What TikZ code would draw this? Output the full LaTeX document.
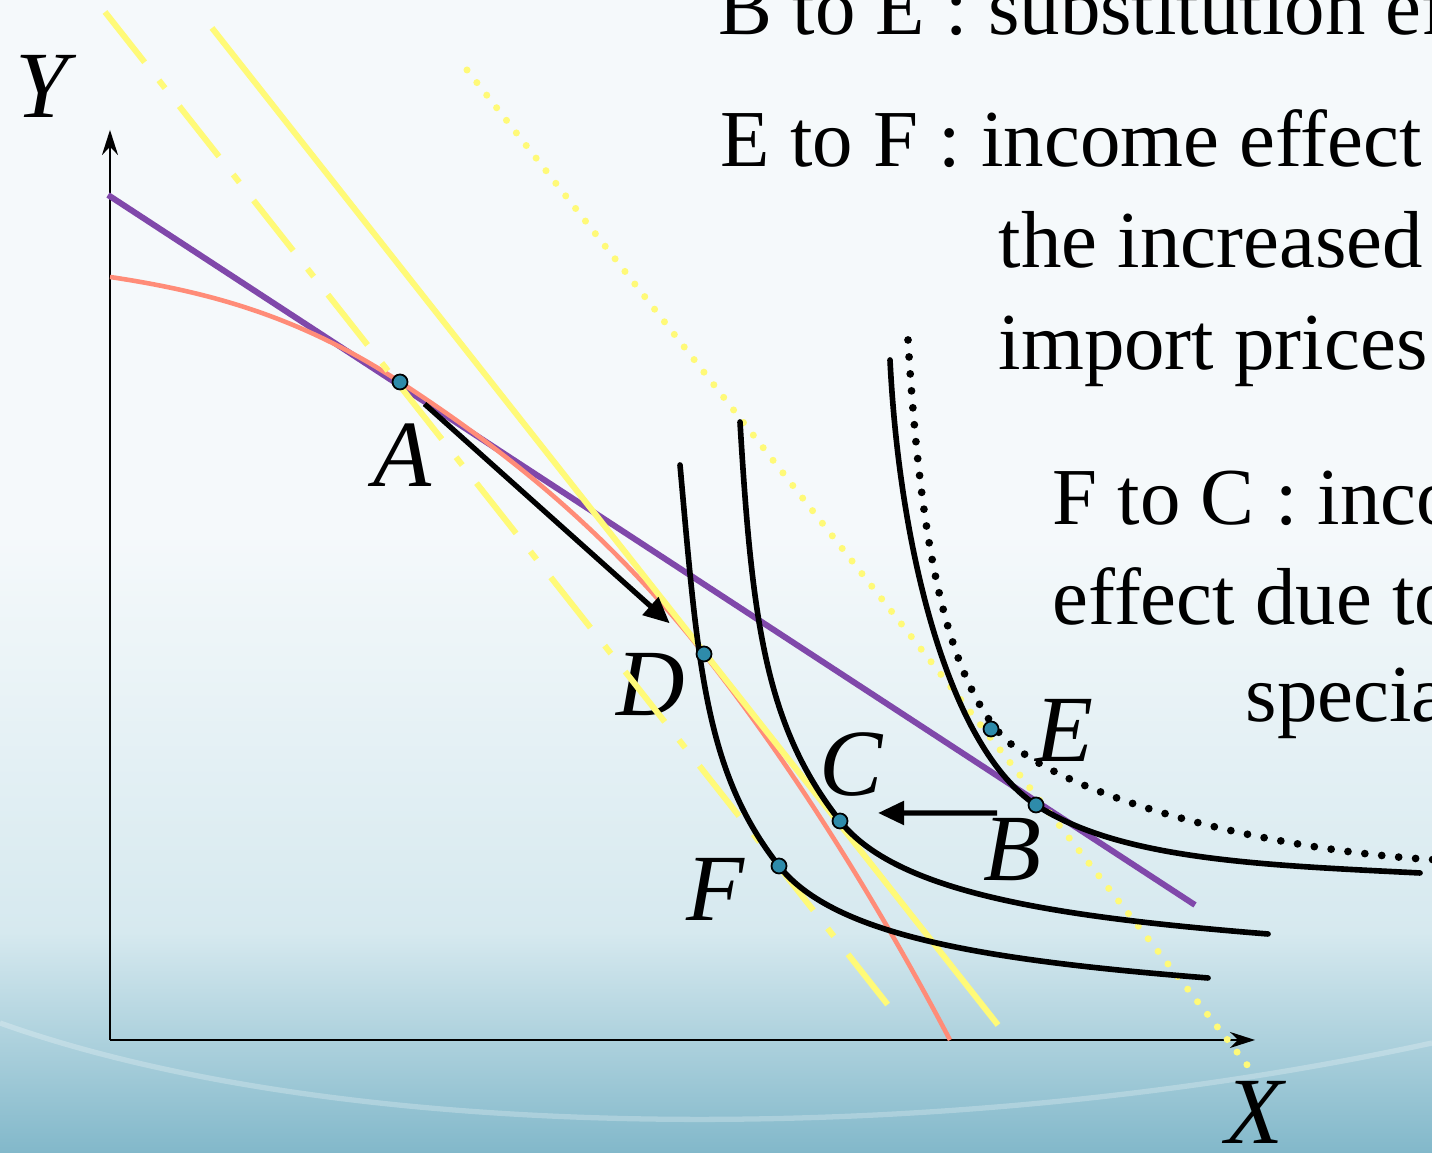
\documentclass[tikz,border=0pt]{standalone}
\usepackage{fontspec}
\setmainfont{Liberation Serif}
\usetikzlibrary{arrows.meta, positioning}
\definecolor{bgtop}{HTML}{F5F9FB}
\definecolor{bgmid}{HTML}{D6E9EF}
\definecolor{bgbot}{HTML}{82B8CA}
\definecolor{totline}{HTML}{8048AA}
\definecolor{ppfline}{HTML}{FF8C78}
\definecolor{budget}{HTML}{FFFA78}
\definecolor{spotfill}{HTML}{2E8BAA}

\begin{document}
\begin{tikzpicture}[>=Stealth]
    \tikzset{spot/.style={circle, draw=black, fill=spotfill, line width=0.5pt, inner sep=0pt, minimum size=0.15cm},
             letter/.style={font=\fontsize{27}{32}\selectfont\itshape, inner sep=0pt},
             txt/.style={font=\fontsize{23}{28}\selectfont, anchor=base west, inner sep=0pt},
             indiff/.style={line width=1.6pt, line cap=round},
             move/.style={line width=1.5pt, -{Triangle[length=0.26cm, width=0.23cm]}},
             axis/.style={line width=0.45pt, -{Stealth[length=0.25cm, width=0.16cm, inset=0.08cm]}}}

    % background
    \useasboundingbox (0,0) rectangle (14.32,11.53);
    \clip (0,0) rectangle (14.32,11.53);
    \fill[bgtop] (0,0) rectangle (14.32,11.53);
    \shade[top color=bgtop, bottom color=bgmid] (0,2.2) rectangle (14.32,6.2);
    \shade[top color=bgmid, bottom color=bgbot] (0,0) rectangle (14.32,2.21);
    \draw[white, opacity=0.25, line width=1.5pt] (0,1.3) .. controls (3.5,0.05) and (9.5,0.05) .. (14.32,1.1);

    % axes
    \coordinate (O) at (1.10,1.13);
    \coordinate (ytip) at (1.10,10.23);
    \coordinate (xtip) at (12.55,1.13);
    \draw[axis] (O) -- (ytip);
    \draw[axis] (O) -- (xtip);
    \node[letter] (ylab) at (0.42,10.67) {Y};
    \node[letter] (xlab) at (12.54,0.41) {X};

    % point labels
    \node[letter] (labA) at (4.02,6.98) {A};
    \node[letter] (labD) at (6.51,4.68) {D};
    \node[letter] (labC) at (8.51,3.88) {C};
    \node[letter] (labE) at (10.64,4.23) {E};
    \node[letter] (labB) at (10.12,3.03) {B};
    \node[letter] (labF) at (7.15,2.64) {F};

    % terms of trade and production frontier
    \draw[totline, line width=1.7pt] (1.08,9.58) -- (11.95,2.48);
    \draw[ppfline, line width=1.3pt] (1.10,8.76) .. controls (2.10,8.61) and (3.00,8.363) .. (4.00,7.71)
        .. controls (5.00,7.057) and (6.04,6.258) .. (7.04,4.99)
        .. controls (7.84,3.976) and (8.70,2.65) .. (9.50,1.13);

    % price lines
    \draw[budget, line width=1.7pt] (2.12,11.25) -- (9.98,1.28);
    \draw[budget, line width=1.7pt, dash pattern=on 0.64cm off 0.23cm on 0.1cm off 0.23cm] (1.05,11.41) -- (8.88,1.48);
    \draw[budget, line width=2pt, line cap=round, dash pattern=on 0pt off 0.16cm] (4.67,10.83) -- (12.55,0.78);

    % indifference curves
    \draw[indiff] (6.80,6.88) .. controls (6.98,4.88) and (7.047,3.812) .. (7.79,2.87)
        .. controls (8.347,2.163) and (9.88,1.926) .. (12.08,1.75);
    \draw[indiff] (7.40,7.31) .. controls (7.52,5.31) and (7.657,4.262) .. (8.40,3.32)
        .. controls (8.957,2.613) and (10.48,2.366) .. (12.68,2.19);
    \draw[indiff] (8.90,7.93) .. controls (9.00,5.93) and (9.523,4.027) .. (10.36,3.48)
        .. controls (11.197,2.933) and (12.60,2.88) .. (14.20,2.80);
    \draw[line width=2.2pt, line cap=round, dash pattern=on 0pt off 0.17cm] (9.08,8.13) .. controls (9.19,6.33) and (9.405,4.948) .. (9.96,4.24)
        .. controls (10.454,3.61) and (12.6,3.02) .. (14.40,2.93);

    % equilibrium points
    \node[spot] (A) at (4.00,7.71) {};
    \node[spot] (D) at (7.04,4.99) {};
    \node[spot] (C) at (8.40,3.32) {};
    \node[spot] (F) at (7.79,2.87) {};
    \node[spot] (B) at (10.36,3.48) {};
    \node[spot] (E) at (9.91,4.24) {};

    % movements
    \draw[move, shorten <=0.33cm, shorten >=0.46cm] (A.center) -- (D.center);
    \draw[move] ([xshift=-0.39cm, yshift=-0.08cm]B.center) -- ([xshift=0.38cm, yshift=0.08cm]C.center);

    % explanations
    \node[txt] (l1) at (7.18,11.18) {B to E : substitution effect};
    \node[txt] (l2) at (7.20,9.86) {E to F : income effect};
    \node[txt] (l3) at (9.98,8.85) {the increased};
    \node[txt] (l4) at (9.98,7.83) {import prices};
    \node[txt] (l5) at (10.52,6.28) {F to C : income};
    \node[txt] (l6) at (10.52,5.28) {effect due to};
    \node[txt] (l7) at (12.45,4.31) {specialization};
\end{tikzpicture}
\end{document}
